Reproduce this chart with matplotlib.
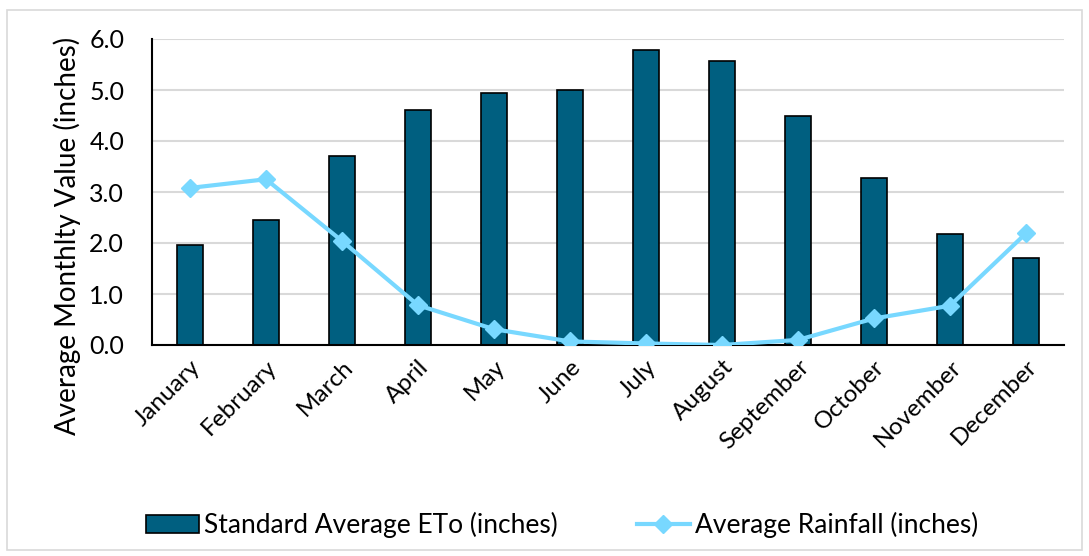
import matplotlib
matplotlib.use("Agg")
import matplotlib.pyplot as plt
from matplotlib.patches import Rectangle

months = ["January", "February", "March", "April", "May", "June", "July",
          "August", "September", "October", "November", "December"]
eto = [1.96, 2.45, 3.70, 4.60, 4.95, 5.00, 5.78, 5.57, 4.50, 3.27, 2.18, 1.70]
rain = [3.08, 3.25, 2.04, 0.78, 0.31, 0.07, 0.03, 0.00, 0.10, 0.52, 0.77, 2.19]
yticks = [0.0, 1.0, 2.0, 3.0, 4.0, 5.0, 6.0]

plt.rcParams['font.family'] = ['Lato', 'DejaVu Sans']

fig = plt.figure(figsize=(10.89, 5.56), dpi=100)
fig.patches.append(Rectangle((7/1089, 6/556), 1075/1089, 540/556, transform=fig.transFigure,
                             fill=False, edgecolor='#d9d9d9', linewidth=1.2))
ax = fig.add_axes([152/1089, 1-345/556, 912/1089, 306/556])

x = list(range(len(months)))
bar_color = '#005F80'
line_color = '#78D8FF'
bars = ax.bar(x, eto, width=0.33, color=bar_color, edgecolor='black', linewidth=1.2,
              label='Standard Average ETo (inches)', zorder=2)
line, = ax.plot(x, rain, color=line_color, linewidth=3, marker='D', markersize=9,
                label='Average Rainfall (inches)', zorder=3)

ax.set_xlim(-0.5, 11.5)
ax.set_ylim(0, 6)
ax.set_yticks(yticks)
ax.set_yticklabels([f"{v:.1f}" for v in yticks], fontsize=18)
ax.set_xticks(x)
ax.set_xticklabels(months, rotation=45, ha='right', rotation_mode='anchor', fontsize=17.5)
ax.tick_params(axis='x', length=0, pad=8)
ax.tick_params(axis='y', length=0, pad=20)
ax.grid(axis='y', color='#d9d9d9', linewidth=1.5, zorder=0)
ax.set_axisbelow(True)
for s in ['top', 'right']:
    ax.spines[s].set_visible(False)
ax.spines['left'].set_color('black')
ax.spines['bottom'].set_color('black')
ax.spines['left'].set_linewidth(1.5)
ax.spines['bottom'].set_linewidth(1.5)
ax.set_ylabel('Average Monthlty Value (inches)', fontsize=20)
ax.yaxis.set_label_coords(-0.078, 0.355)

fig.legend([bars, line], ['Standard Average ETo (inches)', 'Average Rainfall (inches)'],
           loc='center', bbox_to_anchor=(0.516, 1-525/556), ncol=2, frameon=False,
           fontsize=19, columnspacing=3.0, handlelength=2.0, handletextpad=0.2)

fig.savefig('out.png', dpi=100)
